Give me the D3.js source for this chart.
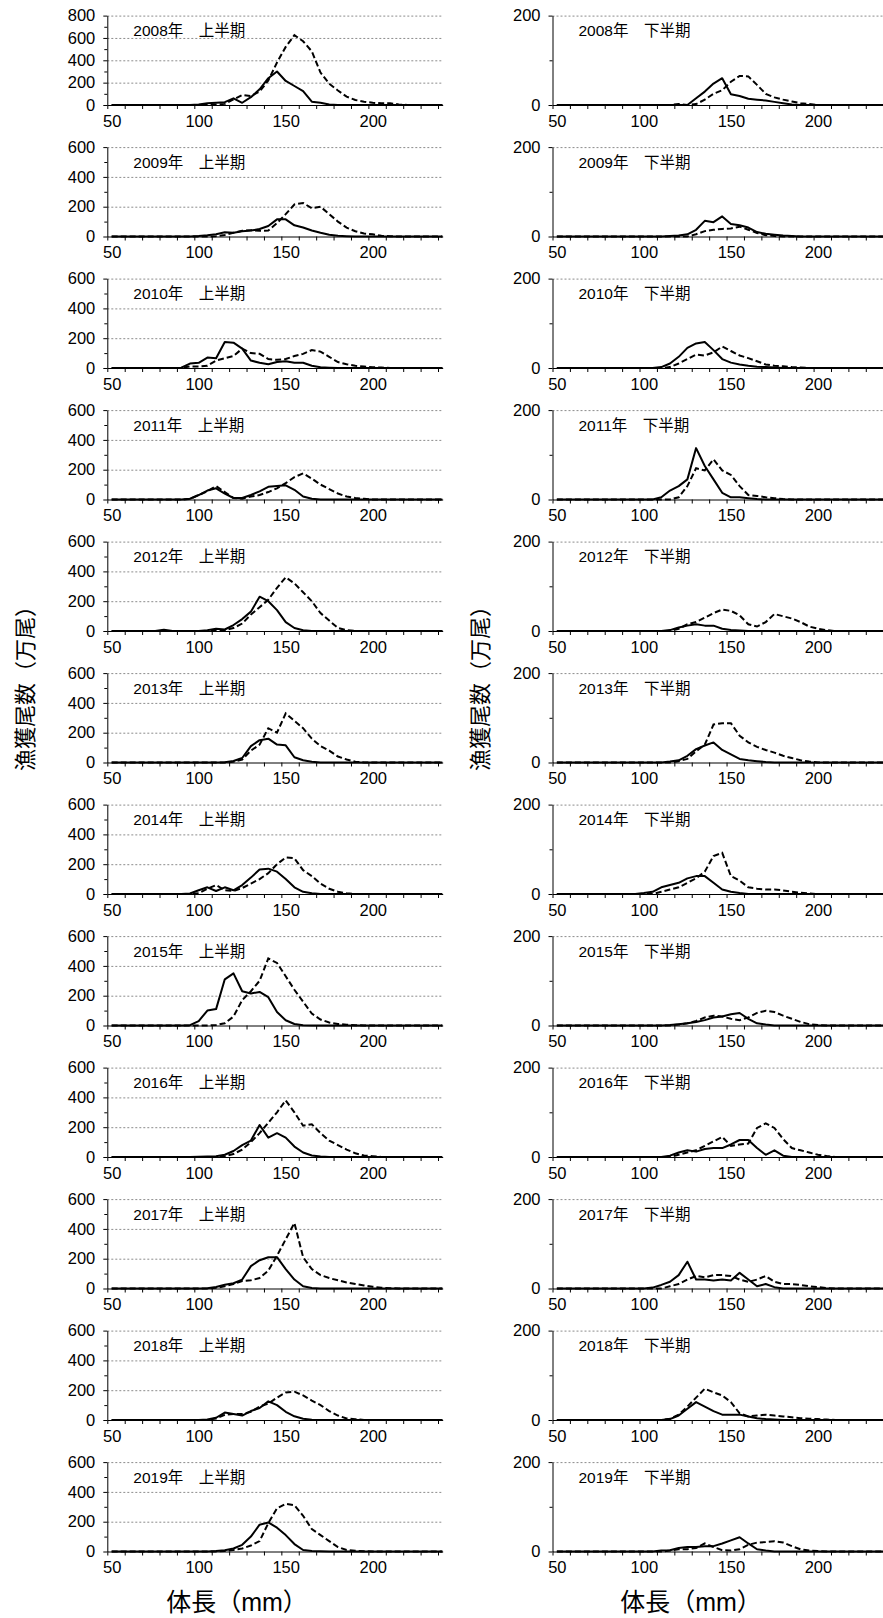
<!DOCTYPE html>
<html>
<head>
<meta charset="utf-8">
<script src="https://cdn.jsdelivr.net/npm/d3@7"></script>
<style>
  body { margin: 0; background: #fff; }
  svg { display: block; }
  text { font-family: Arial, "Liberation Sans", "Noto Sans CJK JP", sans-serif; fill: #000; }
</style>
</head>
<body>
<svg width="883" height="1618"></svg>
<script>
// body length classes (mm), one point every 5 mm
const years = [2008, 2009, 2010, 2011, 2012, 2013, 2014, 2015, 2016, 2017, 2018, 2019];
const lengths = [50, 55, 60, 65, 70, 75, 80, 85, 90, 95,
  100, 105, 110, 115, 120, 125, 130, 135, 140, 145,
  150, 155, 160, 165, 170, 175, 180, 185, 190, 195,
  200, 205, 210, 215, 220, 225, 230, 235, 240];
const halves = ["上半期", "下半期"];
const xLabels = [50, 100, 150, 200];
const firstTicks = [0, 200, 400, 600];
const firstTicksTop = [0, 200, 400, 600, 800];
const firstMinor = [100, 300, 500];
const firstMinorTop = [100, 300, 500, 700];
const secondTicks = [0, 200];
const secondMinor = [100];

// 上半期, solid line
const firstSolid = [
  [0,0,0,0,0,0,0,0,0,0, 5,15,20,25,60,20,70,140,240,300, 215,170,125,30,20,5,0,0,0,0, 0,0,0,0,0,0,0,0,0],
  [0,0,0,0,0,0,0,0,0,0, 3,8,15,28,25,35,40,50,70,115, 115,75,60,40,25,12,5,2,0,0, 0,0,0,0,0,0,0,0,0],
  [0,0,0,0,0,0,0,0,2,30, 35,70,65,175,170,130,50,35,25,40, 45,35,35,15,5,2,0,0,0,0, 0,0,0,0,0,0,0,0,0],
  [0,0,0,0,0,0,0,0,0,5, 30,60,75,40,10,10,30,55,85,90, 95,65,20,5,0,0,0,0,0,0, 0,0,0,0,0,0,0,0,0],
  [0,0,0,0,0,0,8,0,0,0, 0,5,15,10,40,80,130,230,200,140, 60,20,5,0,0,0,0,0,0,0, 0,0,0,0,0,0,0,0,0],
  [0,0,0,0,0,0,0,0,0,0, 0,0,0,2,10,30,110,150,160,120, 115,35,15,5,0,0,0,0,0,0, 0,0,0,0,0,0,0,0,0],
  [0,0,0,0,0,0,0,0,0,3, 25,45,20,45,25,60,110,165,170,150, 100,45,15,5,0,0,0,0,0,0, 0,0,0,0,0,0,0,0,0],
  [0,0,0,0,0,0,0,0,0,2, 30,100,110,310,350,230,215,225,190,90, 35,10,2,0,0,0,0,0,0,0, 0,0,0,0,0,0,0,0,0],
  [0,0,0,0,0,0,0,0,0,0, 2,3,5,15,40,80,110,215,130,160, 130,70,30,10,3,0,0,0,0,0, 0,0,0,0,0,0,0,0,0],
  [0,0,0,0,0,0,0,0,0,0, 0,2,10,25,35,60,150,190,210,210, 130,60,15,3,0,0,0,0,0,0, 0,0,0,0,0,0,0,0,0],
  [0,0,0,0,0,0,0,0,0,0, 0,3,15,50,40,30,60,80,125,100, 55,25,8,2,0,0,0,0,0,0, 0,0,0,0,0,0,0,0,0],
  [0,0,0,0,0,0,0,0,0,0, 0,0,3,8,20,45,100,180,195,160, 110,50,10,3,1,0,0,0,0,0, 0,0,0,0,0,0,0,0,0]
];

// 上半期, dashed line
const firstDashed = [
  [0,0,0,0,0,0,0,0,0,0, 0,0,5,10,50,90,80,120,220,380, 520,625,570,480,290,190,130,75,45,30, 20,15,15,5,0,0,0,0,0],
  [0,0,0,0,0,0,0,0,0,0, 0,0,2,10,25,38,42,38,40,90, 150,215,225,190,200,150,100,60,35,20, 15,5,2,0,0,0,0,0,0],
  [0,0,0,0,0,0,0,0,0,10, 10,15,50,65,80,130,100,95,60,55, 60,80,95,120,110,75,40,25,15,10, 5,3,0,0,0,0,0,0,0],
  [0,0,0,0,0,0,0,0,0,3, 30,55,90,50,10,5,20,30,50,75, 110,150,175,140,100,70,40,20,10,5, 0,0,0,0,0,0,0,0,0],
  [0,0,0,0,0,0,0,0,0,0, 0,0,0,5,20,50,110,160,210,290, 360,320,260,200,120,70,20,5,0,0, 0,0,0,0,0,0,0,0,0],
  [0,0,0,0,0,0,0,0,0,0, 0,0,0,0,5,20,80,120,230,200, 330,280,230,160,110,80,40,20,5,0, 0,0,0,0,0,0,0,0,0],
  [0,0,0,0,0,0,0,0,0,0, 5,35,60,25,20,40,70,100,140,200, 245,240,160,120,70,35,15,5,0,0, 0,0,0,0,0,0,0,0,0],
  [0,0,0,0,0,0,0,0,0,0, 0,0,3,15,60,170,230,300,450,420, 330,240,160,80,40,20,10,5,2,0, 0,0,0,0,0,0,0,0,0],
  [0,0,0,0,0,0,0,0,0,0, 0,0,0,5,20,50,100,160,230,300, 380,300,210,220,160,110,80,50,25,10, 5,0,0,0,0,0,0,0,0],
  [0,0,0,0,0,0,0,0,0,0, 0,0,5,15,30,50,55,70,120,220, 330,440,210,130,90,70,55,40,30,20, 12,5,2,0,0,0,0,0,0],
  [0,0,0,0,0,0,0,0,0,0, 0,2,10,35,40,40,55,90,110,150, 185,190,165,130,100,60,30,10,5,0, 0,0,0,0,0,0,0,0,0],
  [0,0,0,0,0,0,0,0,0,0, 0,0,0,3,10,20,40,70,190,290, 320,310,240,150,110,70,30,10,5,2, 0,0,0,0,0,0,0,0,0]
];

// 下半期, solid line
const secondSolid = [
  [0,0,0,0,0,0,0,0,0,0, 0,0,0,0,0,0,15,30,48,60, 24,20,14,12,10,7,4,1,0,0, 0,0,0,0,0,0,0,0,0],
  [0,0,0,0,0,0,0,0,0,0, 0,0,0,1,2,5,15,35,32,45, 28,25,20,10,6,4,2,1,0,0, 0,0,0,0,0,0,0,0,0],
  [0,0,0,0,0,0,0,0,0,0, 0,0,2,10,25,45,55,58,40,20, 12,8,5,3,2,1,0,0,0,0, 0,0,0,0,0,0,0,0,0],
  [0,0,0,0,0,0,0,0,0,0, 0,0,5,20,30,45,115,75,45,15, 5,5,3,1,0,0,0,0,0,0, 0,0,0,0,0,0,0,0,0],
  [0,0,0,0,0,0,0,0,0,0, 0,0,0,2,8,12,15,12,12,5, 2,1,0,0,0,0,0,0,0,0, 0,0,0,0,0,0,0,0,0],
  [0,0,0,0,0,0,0,0,0,0, 0,0,0,2,5,15,30,38,45,28, 18,8,5,3,1,0,0,0,0,0, 0,0,0,0,0,0,0,0,0],
  [0,0,0,0,0,0,0,0,0,0, 2,5,15,20,25,35,40,40,25,10, 5,2,0,0,0,0,0,0,0,0, 0,0,0,0,0,0,0,0,0],
  [0,0,0,0,0,0,0,0,0,0, 0,0,0,1,3,5,8,12,18,20, 25,28,15,5,2,0,0,0,0,0, 0,0,0,0,0,0,0,0,0],
  [0,0,0,0,0,0,0,0,0,0, 0,0,0,3,10,15,12,18,20,20, 28,38,38,20,5,15,3,0,0,0, 0,0,0,0,0,0,0,0,0],
  [0,0,0,0,0,0,0,0,0,0, 0,2,8,15,30,60,20,20,18,20, 18,35,20,5,10,3,0,0,0,0, 0,0,0,0,0,0,0,0,0],
  [0,0,0,0,0,0,0,0,0,0, 0,0,0,2,10,25,40,30,20,12, 12,12,8,4,2,1,0,0,0,0, 0,0,0,0,0,0,0,0,0],
  [0,0,0,0,0,0,0,0,0,0, 0,0,2,3,8,10,10,12,12,18, 25,32,18,5,2,0,0,0,0,0, 0,0,0,0,0,0,0,0,0]
];

// 下半期, dashed line
const secondDashed = [
  [0,0,0,0,0,0,0,0,0,0, 0,0,0,0,2,0,2,12,25,33, 52,65,64,45,25,17,12,8,4,2, 0,0,0,0,0,0,0,0,0],
  [0,0,0,0,0,0,0,0,0,0, 0,0,0,0,0,0,5,12,15,17, 18,22,15,8,3,1,0,0,0,0, 0,0,0,0,0,0,0,0,0],
  [0,0,0,0,0,0,0,0,0,0, 0,0,0,2,10,20,30,28,35,48, 38,28,22,15,8,5,4,2,1,0, 0,0,0,0,0,0,0,0,0],
  [0,0,0,0,0,0,0,0,0,0, 0,0,0,0,5,30,70,65,90,65, 55,30,10,8,5,3,1,0,0,0, 0,0,0,0,0,0,0,0,0],
  [0,0,0,0,0,0,0,0,0,0, 0,0,0,0,5,15,20,30,40,48, 45,35,15,10,20,38,33,28,20,10, 5,2,0,0,0,0,0,0,0],
  [0,0,0,0,0,0,0,0,0,0, 0,0,0,0,3,8,25,40,85,88, 88,60,45,35,28,22,15,10,5,2, 0,0,0,0,0,0,0,0,0],
  [0,0,0,0,0,0,0,0,0,0, 0,0,5,10,15,25,35,50,85,92, 40,30,15,12,10,10,8,5,3,1, 0,0,0,0,0,0,0,0,0],
  [0,0,0,0,0,0,0,0,0,0, 0,0,0,0,2,5,10,18,22,20, 15,12,18,28,33,30,22,15,8,3, 1,0,0,0,0,0,0,0,0],
  [0,0,0,0,0,0,0,0,0,0, 0,0,0,0,5,10,15,25,35,45, 25,28,30,65,75,65,40,20,15,10, 5,2,0,0,0,0,0,0,0],
  [0,0,0,0,0,0,0,0,0,0, 0,0,0,5,10,20,28,25,30,30, 28,20,15,20,28,15,10,10,8,5, 3,1,0,0,0,0,0,0,0],
  [0,0,0,0,0,0,0,0,0,0, 0,0,0,3,12,30,50,70,62,55, 40,15,8,10,12,10,8,6,4,3, 2,1,0,0,0,0,0,0,0],
  [0,0,0,0,0,0,0,0,0,0, 0,0,0,2,5,5,8,18,10,3, 2,5,15,20,21,23,20,12,5,2, 1,0,0,0,0,0,0,0,0]
];

const svg = d3.select("svg");
const plotW = 335.4, plotH = 89.4, rowStep = 131.5, top0 = 15.6;
const colX = [107.3, 552.5];

const x = d3.scaleLinear().domain([47.5, 240.2]).range([0, plotW]);
const edgeTicks = d3.range(47.5, 240, 10);

const columns = [
  {solid: firstSolid, dashed: firstDashed},
  {solid: secondSolid, dashed: secondDashed}
];

const line = (y) => d3.line()
  .x((d, i) => x(lengths[i]))
  .y(d => y(d));

const tickFont = a => a
  .attr("font-size", 16.5)
  .attr("font-family", "Arial, 'Liberation Sans', sans-serif");

columns.forEach((col, c) => {
  years.forEach((year, k) => {
    const g = svg.append("g")
      .attr("transform", `translate(${colX[c]},${top0 + rowStep * k})`);

    let major, minor;
    if (c === 0) {
      major = k === 0 ? firstTicksTop : firstTicks;
      minor = k === 0 ? firstMinorTop : firstMinor;
    } else {
      major = secondTicks;
      minor = secondMinor;
    }
    const y = d3.scaleLinear().domain([0, d3.max(major)]).range([plotH, 0]);

    // dotted gridlines
    g.append("g")
      .call(d3.axisLeft(y).tickValues(major.filter(v => v > 0)).tickSize(-plotW).tickFormat(""))
      .call(a => a.select(".domain").remove())
      .selectAll("line")
      .attr("stroke", "#8c8c8c")
      .attr("stroke-dasharray", "2,2");

    // minor y ticks
    g.append("g")
      .call(d3.axisLeft(y).tickValues(minor).tickSize(3).tickSizeOuter(0).tickFormat(""))
      .call(a => a.select(".domain").remove());

    // y axis
    g.append("g")
      .call(d3.axisLeft(y).tickValues(major).tickSize(4).tickSizeOuter(0).tickPadding(8))
      .call(tickFont);

    // x axis tick marks (every 10 mm, on class boundaries)
    g.append("g")
      .attr("transform", `translate(0,${plotH})`)
      .call(d3.axisBottom(x).tickValues(edgeTicks).tickSize(4).tickSizeOuter(0).tickFormat(""));

    // x labels
    g.append("g")
      .attr("transform", `translate(0,${plotH})`)
      .call(d3.axisBottom(x).tickValues(xLabels).tickSize(0).tickPadding(10))
      .call(a => a.select(".domain").remove())
      .call(tickFont);

    g.selectAll(".tick text").attr("fill", "#000");
    g.selectAll(".domain, .tick line").filter(function () {
      return !this.getAttribute("stroke-dasharray");
    }).attr("stroke", "#000");

    g.append("path")
      .datum(col.dashed[k])
      .attr("fill", "none")
      .attr("stroke", "#000")
      .attr("stroke-width", 2)
      .attr("stroke-dasharray", "6,3")
      .attr("d", line(y));

    g.append("path")
      .datum(col.solid[k])
      .attr("fill", "none")
      .attr("stroke", "#000")
      .attr("stroke-width", 2)
      .attr("stroke-linejoin", "round")
      .attr("d", line(y));

    g.append("text")
      .attr("x", 26)
      .attr("y", 20.5)
      .style("font-size", "15.5px")
      .text(`${year}年\u3000${halves[c]}`);
  });

  svg.append("text")
    .attr("x", [237, 691][c])
    .attr("y", 1611)
    .attr("text-anchor", "middle")
    .style("font-size", "25px")
    .text("体長（mm）");

  svg.append("text")
    .attr("transform", `translate(${[33, 488][c]},${683}) rotate(-90)`)
    .attr("text-anchor", "middle")
    .style("font-size", "22px")
    .text("漁獲尾数（万尾）");
});
</script>
</body>
</html>
